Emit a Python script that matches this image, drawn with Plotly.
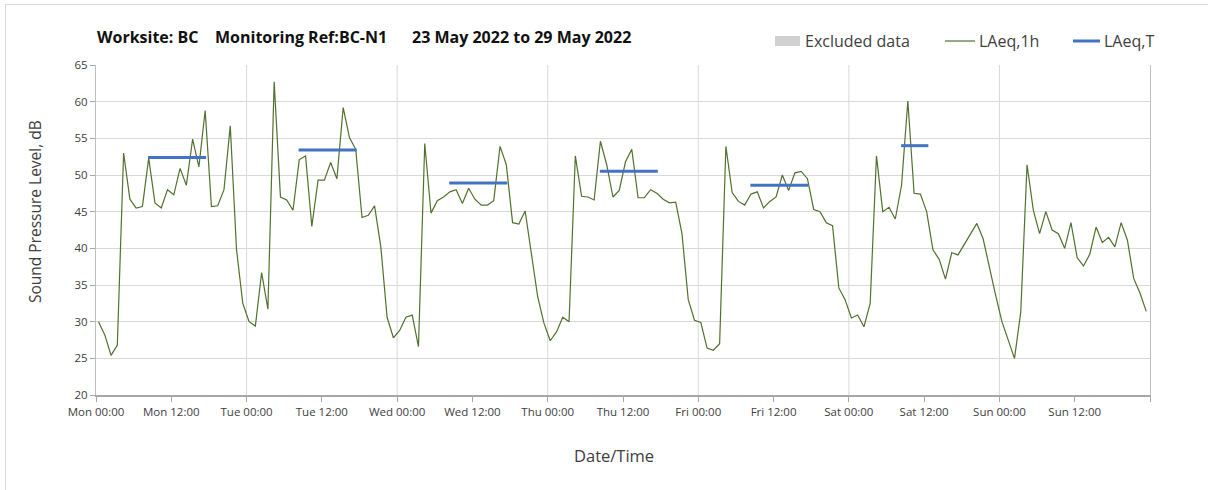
import pandas as pd
import plotly.graph_objects as go

# ---------------- data ----------------
start_time = "2022-05-23 00:24"
laeq_1h = [
    # Mon
    30.0, 28.2, 25.4, 26.8, 53.0, 46.7, 45.5, 45.7, 52.3, 46.2, 45.5, 48.0,
    47.3, 50.9, 48.6, 54.9, 51.1, 58.8, 45.7, 45.8, 48.0, 56.7, 39.8, 32.5,
    # Tue
    30.0, 29.4, 36.7, 31.7, 62.7, 47.0, 46.6, 45.2, 52.1, 52.6, 43.0, 49.3,
    49.3, 51.7, 49.5, 59.2, 55.1, 53.5, 44.2, 44.5, 45.8, 40.2, 30.6, 27.8,
    # Wed
    28.8, 30.6, 30.9, 26.6, 54.3, 44.8, 46.5, 47.0, 47.7, 48.0, 46.1, 48.2,
    46.7, 45.9, 45.9, 46.5, 53.9, 51.4, 43.5, 43.3, 45.1, 39.3, 33.4, 29.8,
    # Thu
    27.4, 28.6, 30.6, 30.0, 52.6, 47.1, 47.0, 46.6, 54.6, 51.4, 47.0, 47.9,
    51.8, 53.5, 46.9, 46.9, 48.0, 47.5, 46.7, 46.2, 46.3, 42.0, 33.0, 30.2,
    # Fri
    29.9, 26.4, 26.1, 27.0, 53.9, 47.6, 46.4, 45.9, 47.4, 47.7, 45.5, 46.4,
    47.0, 50.0, 47.9, 50.3, 50.5, 49.5, 45.3, 45.0, 43.5, 43.1, 34.6, 33.0,
    # Sat
    30.5, 30.9, 29.3, 32.5, 52.6, 45.0, 45.6, 44.0, 48.6, 60.1, 47.5, 47.4,
    45.0, 39.8, 38.5, 35.8, 39.4, 39.1, 40.5, 42.0, 43.4, 41.3, 37.3, 33.6,
    # Sun
    30.0, 27.5, 25.0, 31.3, 51.4, 45.2, 42.0, 45.0, 42.5, 42.0, 40.0, 43.5,
    38.7, 37.6, 39.2, 42.9, 40.8, 41.5, 40.2, 43.5, 41.1, 35.9, 33.9, 31.4,
]

laeq_t_start = ["2022-05-23 08:18", "2022-05-24 08:18", "2022-05-25 08:18",
                "2022-05-26 08:18", "2022-05-27 08:18", "2022-05-28 08:20"]
laeq_t_end = ["2022-05-23 17:33", "2022-05-24 17:33", "2022-05-25 17:33",
              "2022-05-26 17:33", "2022-05-27 17:33", "2022-05-28 12:40"]
laeq_t_value = [52.4, 53.4, 48.9, 50.5, 48.6, 54.0]

tick_times = ["2022-05-23 00:00", "2022-05-23 12:00", "2022-05-24 00:00", "2022-05-24 12:00",
              "2022-05-25 00:00", "2022-05-25 12:00", "2022-05-26 00:00", "2022-05-26 12:00",
              "2022-05-27 00:00", "2022-05-27 12:00", "2022-05-28 00:00", "2022-05-28 12:00",
              "2022-05-29 00:00", "2022-05-29 12:00", "2022-05-30 00:00"]
tick_labels = ["Mon 00:00", "Mon 12:00", "Tue 00:00", "Tue 12:00", "Wed 00:00", "Wed 12:00",
               "Thu 00:00", "Thu 12:00", "Fri 00:00", "Fri 12:00", "Sat 00:00", "Sat 12:00",
               "Sun 00:00", "Sun 12:00", ""]
midnights = ["2022-05-24", "2022-05-25", "2022-05-26", "2022-05-27", "2022-05-28", "2022-05-29"]

times = pd.date_range(start_time, periods=len(laeq_1h), freq="h")

# ---------------- style ----------------
FONT = "Open Sans"
TXT = "#404040"
GREEN = "#52702F"
BLUE = "#4472C4"
GRID = "#d9d9d9"

W, H = 1208, 490
L, R, T, B = 96, 58, 65, 95
PW, PH = W - L - R, H - T - B


def px(x):
    return (x - L) / PW


def py(y):
    return (H - B - y) / PH


fig = go.Figure()
fig.add_trace(go.Scatter(x=times, y=laeq_1h, mode="lines", name="LAeq,1h",
                         line=dict(color=GREEN, width=1.2), showlegend=False,
                         hoverinfo="x+y"))
for s, e, v in zip(laeq_t_start, laeq_t_end, laeq_t_value):
    fig.add_trace(go.Scatter(x=[s, e], y=[v, v], mode="lines", name="LAeq,T",
                             line=dict(color=BLUE, width=3), showlegend=False))

shapes = []
for m in midnights:
    shapes.append(dict(type="line", xref="x", yref="paper", x0=m, x1=m, y0=0, y1=1,
                       line=dict(color=GRID, width=1), layer="below"))
# outer frame (top & left)
shapes.append(dict(type="line", xref="paper", yref="paper", x0=px(5), x1=px(1208),
                   y0=py(4.5), y1=py(4.5), line=dict(color=GRID, width=1)))
shapes.append(dict(type="line", xref="paper", yref="paper", x0=px(5.5), x1=px(5.5),
                   y0=py(4.5), y1=py(490), line=dict(color=GRID, width=1)))
# manual legend symbols
shapes.append(dict(type="rect", xref="paper", yref="paper", x0=px(775), x1=px(800),
                   y0=py(46), y1=py(36), fillcolor="#d0d0d0", line=dict(width=0)))
shapes.append(dict(type="line", xref="paper", yref="paper", x0=px(945), x1=px(975),
                   y0=py(41), y1=py(41), line=dict(color=GREEN, width=1.2)))
shapes.append(dict(type="line", xref="paper", yref="paper", x0=px(1073), x1=px(1100),
                   y0=py(41), y1=py(41), line=dict(color=BLUE, width=3)))

annotations = []
for text, x in [("Worksite: BC", 95), ("Monitoring Ref:BC-N1", 213), ("23 May 2022 to 29 May 2022", 410)]:
    annotations.append(dict(text=f"<b>{text}</b>", xref="paper", yref="paper", x=px(x), y=py(37),
                            xanchor="left", yanchor="middle", showarrow=False,
                            font=dict(family=FONT, size=16, color="#111111")))
for text, x in [("Excluded data", 803), ("LAeq,1h", 977), ("LAeq,T", 1102)]:
    annotations.append(dict(text=text, xref="paper", yref="paper", x=px(x), y=py(41),
                            xanchor="left", yanchor="middle", showarrow=False,
                            font=dict(family=FONT, size=16, color=TXT)))
# axis titles
annotations.append(dict(text="Date/Time", xref="paper", yref="paper", x=px(614), y=py(455),
                        xanchor="center", yanchor="middle", showarrow=False,
                        font=dict(family=FONT, size=16.5, color=TXT)))
annotations.append(dict(text="Sound Pressure Level, dB", xref="paper", yref="paper",
                        x=px(35), y=py(212), textangle=-90,
                        xanchor="center", yanchor="middle", showarrow=False,
                        font=dict(family=FONT, size=15.5, color=TXT)))

fig.update_layout(
    width=W, height=H,
    margin=dict(l=L, r=R, t=T, b=B),
    paper_bgcolor="white", plot_bgcolor="white",
    font=dict(family=FONT, color=TXT),
    shapes=shapes, annotations=annotations,
    showlegend=False,
    xaxis=dict(
        type="date",
        range=["2022-05-23 00:00", "2022-05-30 00:00"],
        tickvals=tick_times, ticktext=tick_labels,
        ticks="outside", ticklen=5, tickcolor="#a6a6a6",
        showline=True, linecolor="#a6a6a6", linewidth=1.5,
        showgrid=False, zeroline=False,
        tickfont=dict(size=11.5, color=TXT),
    ),
    yaxis=dict(
        range=[20, 65], tick0=20, dtick=5,
        ticks="outside", ticklen=5, tickcolor="#a6a6a6",
        showline=True, linecolor="#bfbfbf", mirror=True,
        showgrid=True, gridcolor=GRID, zeroline=False,
        tickfont=dict(size=11.5, color=TXT),
    ),
)

fig.write_html("out.html", config={"displayModeBar": False},
               post_script="document.body.style.margin='0';")
